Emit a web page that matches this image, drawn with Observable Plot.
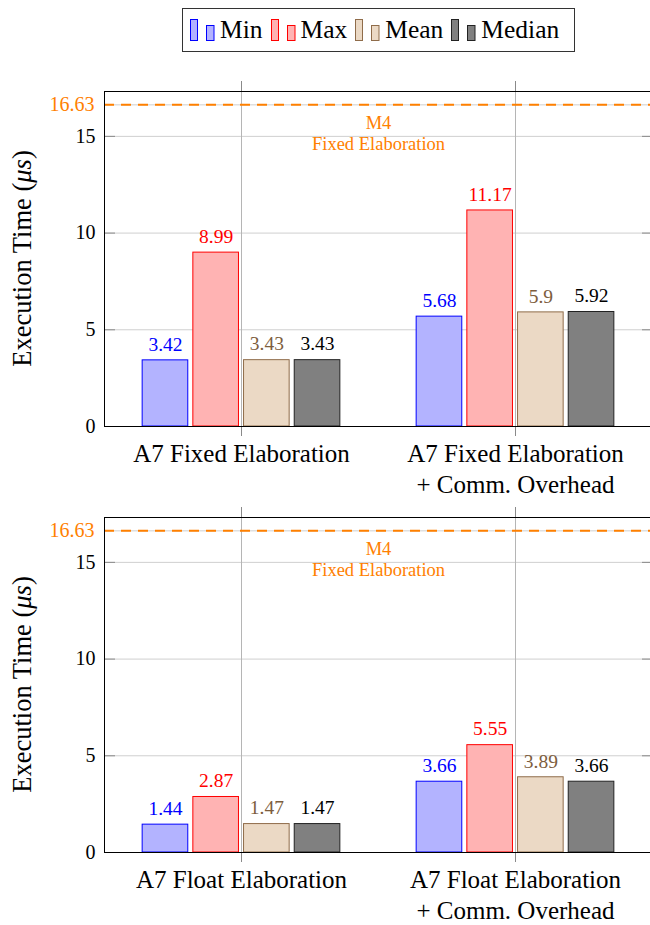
<!DOCTYPE html>
<html>
<head>
<meta charset="utf-8">
<script src="https://cdn.jsdelivr.net/npm/d3@7"></script>
<script src="https://cdn.jsdelivr.net/npm/@observablehq/plot@0.6"></script>
<style>
  body { margin: 0; background: white; width: 650px; height: 925px; overflow: hidden; position: relative; }
  #legend { position: absolute; left: 182px; top: 8px; width: 393px; height: 44px; box-sizing: border-box;
    border: 1px solid #333; display: flex; align-items: center; padding-left: 7px;
    font-family: "Liberation Serif", "Times New Roman", Times, "DejaVu Serif", serif; font-size: 25.5px; color: black; }
  #legend .item { display: flex; align-items: center; margin-right: 8px; }
  #legend svg { margin-right: 5px; }
  #charts { position: absolute; left: 0; top: 60px; }
  #charts svg { display: block; }
</style>
</head>
<body>
<div id="legend"></div>
<div id="charts"></div>
<script>
// ---- data ----
const series = ["Min", "Max", "Mean", "Median"];
const categoriesTop = ["A7 Fixed Elaboration", "A7 Fixed Elaboration\n+ Comm. Overhead"];
const categoriesBottom = ["A7 Float Elaboration", "A7 Float Elaboration\n+ Comm. Overhead"];
const topMin = [3.42, 5.68];
const topMax = [8.99, 11.17];
const topMean = [3.43, 5.9];
const topMedian = [3.43, 5.92];
const bottomMin = [1.44, 3.66];
const bottomMax = [2.87, 5.55];
const bottomMean = [1.47, 3.89];
const bottomMedian = [1.47, 3.66];
const refValue = 16.63;
const refLabel = ["M4", "Fixed Elaboration"];
const yTicks = [0, 5, 10, 15];
const yMax = 17.32;

// ---- styles ----
const fills = ["#b3b3ff", "#ffb3b3", "#ebd9c5", "#808080"];
const strokes = ["#0000ff", "#ff0000", "#8f6c4a", "#222222"];
const labelColors = ["#0000ff", "#ff0000", "#7d5d3d", "#000000"];
const orange = "#ff8000";
const font = "'Liberation Serif', 'Times New Roman', Times, 'DejaVu Serif', serif";

// legend
const legend = d3.select("#legend");
series.forEach((s, k) => {
  const it = legend.append("div").attr("class", "item");
  const sv = it.append("svg").attr("width", 25).attr("height", 23);
  sv.append("rect").attr("x", 0.5).attr("y", 0.5).attr("width", 7).attr("height", 21)
    .attr("fill", fills[k]).attr("stroke", strokes[k]);
  sv.append("rect").attr("x", 16.5).attr("y", 6.5).attr("width", 7.5).attr("height", 15)
    .attr("fill", fills[k]).attr("stroke", strokes[k]);
  it.append("span").text(s);
});

function panel(cats, vals, marginTop, marginBottom, height) {
  const rows = [];
  cats.forEach((c, i) => series.forEach((s, k) => rows.push({cat: i, k, s, v: vals[k][i]})));
  const pitch = 0.185, bw = 0.1665;
  const cx = d => d.cat + (d.k - 1.5) * pitch;
  const plot = Plot.plot({
    width: 650, height, marginLeft: 104, marginRight: -2, marginTop, marginBottom,
    x: {type: "linear", domain: [-0.5, 1.5]},
    y: {domain: [0, yMax]},
    color: {type: "identity"},
    style: {fontFamily: font, background: "white", overflow: "visible"},
    marks: [
      Plot.gridY([...yTicks, refValue], {stroke: "#cfcfcf", strokeOpacity: 1}),
      Plot.gridX([0, 1], {stroke: "#b5b5b5", strokeOpacity: 1}),
      Plot.axisY(yTicks, {tickSize: -11, text: null, stroke: "#8a8a8a", label: null}),
      Plot.axisY(yTicks, {anchor: "right", tickSize: -11, text: null, stroke: "#8a8a8a", label: null}),
      Plot.axisY(yTicks, {tickSize: 0, tickPadding: 9, fontSize: 20, fill: "black", label: null}),
      Plot.axisX([0, 1], {tickSize: 10, text: null, stroke: "#8a8a8a", label: null}),
      Plot.axisX([0, 1], {anchor: "top", tickSize: 11, text: null, stroke: "#8a8a8a", label: null}),
      Plot.axisX([0, 1], {tickSize: 0, tickPadding: 13, tickFormat: i => cats[i], fontSize: 25,
        lineHeight: 1.25, fill: "black", label: null}),
      Plot.ruleY([refValue], {stroke: orange, strokeWidth: 2, strokeDasharray: "10,7"}),
      Plot.text([refValue], {y: d => d, frameAnchor: "left", dx: -10, textAnchor: "end",
        text: d => String(d), fill: orange, fontSize: 20}),
      Plot.text([refValue], {x: 0.5, y: d => d, dy: 28, text: () => refLabel.join("\n"),
        fill: orange, fontSize: 18.5, lineHeight: 1.14}),
      Plot.rectY(rows, {x1: d => cx(d) - bw / 2, x2: d => cx(d) + bw / 2, y1: 0, y2: "v",
        fill: d => fills[d.k], stroke: d => strokes[d.k], strokeWidth: 1}),
      Plot.text(rows, {x: cx, y: "v", dy: -16, text: d => String(d.v),
        fill: d => labelColors[d.k], fontSize: 19.5}),
      Plot.frame({stroke: "black", strokeWidth: 1})
    ]
  });
  const svg = d3.select(plot);
  const t = svg.append("text")
    .attr("transform", `translate(31,${(marginTop + height - marginBottom) / 2}) rotate(-90)`)
    .attr("text-anchor", "middle")
    .attr("font-family", font)
    .attr("font-size", 26.5)
    .attr("fill", "black");
  t.append("tspan").text("Execution Time (");
  t.append("tspan").attr("font-style", "italic").text("μs");
  t.append("tspan").text(")");
  return plot;
}

const charts = document.getElementById("charts");
charts.append(panel(categoriesTop, [topMin, topMax, topMean, topMedian], 31, 79, 445));
charts.append(panel(categoriesBottom, [bottomMin, bottomMax, bottomMean, bottomMedian], 12, 73, 420));
</script>
</body>
</html>
